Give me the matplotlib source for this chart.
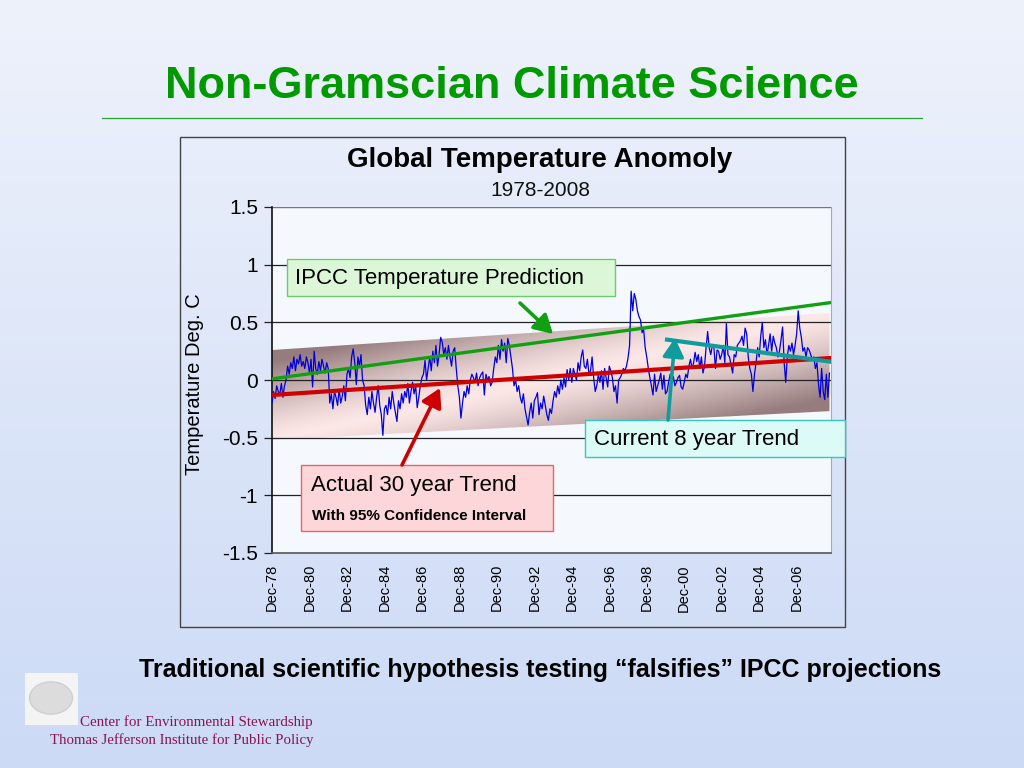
import numpy as np
import matplotlib
matplotlib.use("Agg")
import matplotlib.pyplot as plt
from matplotlib.patches import Rectangle, Polygon, FancyArrowPatch, Circle

plt.rcParams['font.family'] = ['Liberation Sans', 'DejaVu Sans']

# ---------------- data (monthly anomaly, Dec-1978 .. Sep-2008) ----------------
dec_1978 = [-0.20]
y1979 = [-0.10, -0.16, -0.05, -0.10, -0.12, -0.03, -0.15, -0.05, 0.00, 0.12, 0.05, 0.15]
y1980 = [0.10, 0.20, 0.08, 0.18, 0.14, 0.22, 0.12, 0.16, 0.10, 0.20, 0.15, 0.06]
y1981 = [0.18, -0.06, 0.25, 0.10, 0.05, 0.16, 0.08, 0.18, 0.12, 0.06, 0.15, 0.10]
y1982 = [-0.20, -0.12, -0.25, -0.10, -0.15, -0.22, -0.08, -0.20, -0.14, -0.05, -0.18, 0.05]
y1983 = [0.10, 0.02, 0.20, 0.27, 0.15, -0.04, 0.20, 0.12, 0.22, 0.00, -0.05, -0.22]
y1984 = [-0.30, -0.15, -0.25, -0.10, -0.20, -0.28, -0.15, -0.05, -0.22, -0.30, -0.48, -0.25]
y1985 = [-0.22, -0.30, -0.15, -0.25, -0.10, -0.20, -0.28, -0.36, -0.18, -0.25, -0.12, -0.20]
y1986 = [-0.10, -0.15, -0.03, -0.20, -0.10, -0.02, -0.12, -0.05, -0.24, -0.15, -0.05, 0.02]
y1987 = [0.05, 0.17, 0.00, 0.10, 0.20, 0.08, 0.25, 0.15, 0.30, 0.12, 0.22, 0.37]
y1988 = [0.33, 0.22, 0.28, 0.18, 0.30, 0.20, 0.12, 0.25, 0.28, 0.10, -0.05, -0.15]
y1989 = [-0.33, -0.20, -0.10, -0.15, -0.05, -0.12, 0.00, 0.05, 0.02, -0.02, 0.06, -0.05]
y1990 = [0.02, 0.05, 0.07, -0.13, 0.05, 0.00, 0.03, -0.05, -0.02, 0.10, 0.20, 0.15]
y1991 = [0.30, 0.18, 0.35, 0.25, 0.32, 0.15, 0.36, 0.30, 0.20, 0.10, -0.05, 0.00]
y1992 = [-0.10, -0.05, -0.15, -0.20, -0.12, -0.25, -0.32, -0.39, -0.28, -0.20, -0.33, -0.18]
y1993 = [-0.15, -0.11, -0.30, -0.20, -0.25, -0.14, -0.22, -0.30, -0.35, -0.25, -0.29, -0.18]
y1994 = [-0.10, -0.15, -0.05, -0.12, 0.00, -0.08, 0.02, -0.06, 0.09, 0.00, 0.10, -0.02]
y1995 = [0.10, 0.05, 0.00, 0.15, 0.08, 0.20, 0.26, 0.12, 0.10, 0.18, 0.05, 0.08]
y1996 = [0.20, 0.02, -0.10, -0.05, 0.05, -0.02, 0.08, -0.08, 0.10, 0.02, -0.06, 0.12]
y1997 = [0.08, 0.02, -0.10, -0.05, -0.20, 0.00, 0.02, 0.05, 0.10, 0.08, 0.12, 0.19]
y1998 = [0.30, 0.77, 0.60, 0.75, 0.70, 0.60, 0.55, 0.52, 0.41, 0.44, 0.28, 0.20]
y1999 = [0.10, 0.02, -0.05, -0.13, 0.05, -0.10, -0.05, 0.00, 0.06, -0.08, 0.04, -0.12]
y2000 = [-0.10, -0.02, 0.05, 0.00, 0.03, -0.05, -0.02, 0.02, 0.04, -0.06, -0.08, -0.02]
y2001 = [0.05, 0.02, 0.12, 0.18, 0.10, 0.15, 0.24, 0.16, 0.22, 0.10, 0.20, 0.06]
y2002 = [0.12, 0.28, 0.42, 0.28, 0.22, 0.30, 0.28, 0.10, 0.26, 0.25, 0.18, 0.22]
y2003 = [0.30, 0.15, 0.49, 0.22, 0.20, 0.13, 0.06, 0.22, 0.20, 0.30, 0.32, 0.34]
y2004 = [0.38, 0.30, 0.45, 0.40, 0.20, 0.10, 0.05, -0.10, 0.05, 0.15, 0.28, 0.20]
y2005 = [0.38, 0.50, 0.28, 0.35, 0.22, 0.30, 0.40, 0.25, 0.38, 0.32, 0.28, 0.20]
y2006 = [0.25, 0.35, 0.46, 0.15, -0.02, 0.20, 0.30, 0.25, 0.32, 0.22, 0.30, 0.40]
y2007 = [0.60, 0.45, 0.37, 0.25, 0.28, 0.20, 0.28, 0.26, 0.22, 0.18, 0.20, 0.10]
y2008 = [0.15, -0.04, -0.15, 0.10, -0.10, -0.17, 0.05, -0.15, 0.06]

anomaly = (dec_1978 + y1979 + y1980 + y1981 + y1982 + y1983 + y1984 + y1985 +
           y1986 + y1987 + y1988 + y1989 + y1990 + y1991 + y1992 + y1993 +
           y1994 + y1995 + y1996 + y1997 + y1998 + y1999 + y2000 + y2001 +
           y2002 + y2003 + y2004 + y2005 + y2006 + y2007 + y2008)

tick_labels = ["Dec-78", "Dec-80", "Dec-82", "Dec-84", "Dec-86", "Dec-88", "Dec-90",
               "Dec-92", "Dec-94", "Dec-96", "Dec-98", "Dec-00", "Dec-02", "Dec-04", "Dec-06"]

# trend lines: [start, end] values
actual_trend = [-0.13, 0.19]
ipcc_prediction = [0.01, 0.67]
current_trend_start_month = 253
current_trend = [0.35, 0.16]
ci_upper = [0.26, 0.58]
ci_lower = [-0.52, -0.27]

# ---------------- figure ----------------
W, H = 1024, 768
fig = plt.figure(figsize=(W / 100, H / 100), dpi=100)

def fx(px):
    return px / W

def fy(py):
    return 1 - py / H

# slide background gradient
bg = fig.add_axes([0, 0, 1, 1], zorder=-5)
top_c = np.array([238, 242, 251]) / 255
bot_c = np.array([204, 218, 246]) / 255
g = np.linspace(0, 1, 256)[:, None]
grad = top_c[None, None, :] * (1 - g[:, :, None]) + bot_c[None, None, :] * g[:, :, None]
grad = np.repeat(grad, 2, axis=1)
bg.imshow(grad, aspect='auto', extent=[0, 1, 0, 1], origin='upper')
bg.set_axis_off()

# title
fig.text(fx(512), fy(86), "Non-Gramscian Climate Science", ha='center', va='center',
         color='#009a00', fontsize=32.5, fontweight='bold')
fig.add_artist(plt.Line2D([fx(102), fx(922)], [fy(118), fy(118)], color='#2ea02e', lw=0.9))

# chart box
fig.add_artist(Rectangle((fx(180), fy(627)), fx(845) - fx(180), fy(137) - fy(627),
                         transform=fig.transFigure, fill=False, edgecolor='#444444', lw=1.0))

fig.text(fx(540), fy(160), "Global Temperature Anomoly", ha='center', va='center',
         fontsize=20, fontweight='bold', color='black')
fig.text(fx(540), fy(191), "1978-2008", ha='center', va='center', fontsize=15, color='#111111')

# main axes
L, R, T, B = 272, 831, 207, 553
ax = fig.add_axes([fx(L), fy(B), fx(R) - fx(L), fy(T) - fy(B)], zorder=1)
ax.set_facecolor('#f5f8fd')
n = len(anomaly)
months = np.arange(n)
xmax = 358
ax.set_xlim(0, xmax)
ax.set_ylim(-1.5, 1.5)

# confidence band with gradient
x_end = n - 1
band_poly = Polygon([[0, ci_lower[0]], [x_end, ci_lower[1]], [x_end, ci_upper[1]], [0, ci_upper[0]]],
                    closed=True, facecolor='none', edgecolor='none', transform=ax.transData)
ax.add_patch(band_poly)
gx = np.linspace(0, x_end, 400)
gy = np.linspace(-0.6, 0.7, 300)
GX, GY = np.meshgrid(gx, gy)
lo = ci_lower[0] + (ci_lower[1] - ci_lower[0]) * GX / x_end
hi = ci_upper[0] + (ci_upper[1] - ci_upper[0]) * GX / x_end
v = (GY - lo) / (hi - lo)
u = GX / x_end
t = np.clip(np.abs(v - u) * 1.15, 0, 1) ** 1.3
light = np.array([253, 232, 232]) / 255
dark = np.array([150, 124, 124]) / 255
img = light[None, None, :] * (1 - t[:, :, None]) + dark[None, None, :] * t[:, :, None]
im = ax.imshow(img, extent=[0, x_end, -0.6, 0.7], origin='lower', aspect='auto', zorder=1)
im.set_clip_path(band_poly)

# gridlines
for yv in [-1, -0.5, 0, 0.5, 1]:
    ax.axhline(yv, color='#222222', lw=0.9, zorder=2)
ax.axhline(1.5, color='#777777', lw=1.0, zorder=2)

# data line
ax.plot(months, anomaly, color='#0000dd', lw=0.9, zorder=3)

# trends
ax.plot([0, x_end], ipcc_prediction, color='#11a011', lw=2.4, zorder=4)
ax.plot([0, x_end], actual_trend, color='#d00000', lw=3.0, zorder=4)
ax.plot([current_trend_start_month, x_end], current_trend, color='#119c9c', lw=3.0, zorder=5)

# axes styling
ax.set_yticks([-1.5, -1, -0.5, 0, 0.5, 1, 1.5])
ax.set_yticklabels(["-1.5", "-1", "-0.5", "0", "0.5", "1", "1.5"], fontsize=15)
ax.set_xticks(np.arange(0, 24 * len(tick_labels), 24))
ax.set_xticklabels(tick_labels, rotation=90, fontsize=10.5)
ax.tick_params(axis='y', direction='out', length=6, width=0.9, color='#222222', pad=4)
ax.tick_params(axis='x', direction='out', length=0, pad=8)
ax.spines['left'].set_color('#111111')
ax.spines['left'].set_linewidth(1.2)
ax.spines['bottom'].set_color('#555555')
ax.spines['bottom'].set_linewidth(1.2)
ax.spines['top'].set_visible(False)
ax.spines['right'].set_color('#aaaaaa')
ax.spines['right'].set_linewidth(0.8)

fig.text(fx(195), fy(384), "Temperature Deg. C", rotation=90, ha='center', va='center', fontsize=14.5)

# annotation boxes
def box(x0, y0, x1, y1, fc, ec):
    fig.add_artist(Rectangle((fx(x0), fy(y1)), fx(x1) - fx(x0), fy(y0) - fy(y1),
                             transform=fig.transFigure, facecolor=fc, edgecolor=ec, lw=1.0, zorder=10))

def arrow(x0, y0, x1, y1, c):
    fig.add_artist(FancyArrowPatch((fx(x0), fy(y0)), (fx(x1), fy(y1)), transform=fig.transFigure,
                                   arrowstyle='-|>,head_length=7,head_width=4', color=c, lw=2.6,
                                   mutation_scale=1.6, zorder=11, shrinkA=0, shrinkB=0))

box(287, 259, 615, 296, '#dcf7d8', '#6ccc6c')
fig.text(fx(295), fy(278), "IPCC Temperature Prediction", ha='left', va='center', fontsize=16, zorder=12)
arrow(520, 303, 553, 334, '#11a011')

box(301, 465, 553, 531, '#fcd6d8', '#e06a6a')
fig.text(fx(311), fy(486), "Actual 30 year Trend", ha='left', va='center', fontsize=16, zorder=12)
fig.text(fx(312), fy(516), "With 95% Confidence Interval", ha='left', va='center', fontsize=11,
         fontweight='bold', zorder=12)
arrow(402, 465, 440, 388, '#cc0000')

box(585, 420, 845, 457, '#dcfbf6', '#36c6c0')
fig.text(fx(594), fy(439), "Current 8 year Trend", ha='left', va='center', fontsize=16, zorder=12)
arrow(668, 420, 675, 338, '#119c9c')

# bottom statement
fig.text(fx(540), fy(670), "Traditional scientific hypothesis testing \u201cfalsifies\u201d IPCC projections",
         ha='center', va='center', fontsize=18, fontweight='bold', color='black')

# logo
fig.add_artist(Rectangle((fx(25), fy(725)), fx(53), fy(673) - fy(725), transform=fig.transFigure,
                         facecolor='#f4f4f4', edgecolor='none', zorder=5))
fig.add_artist(Circle((fx(51), fy(698)), 0.021, transform=fig.transFigure,
                      facecolor='#dcdcdc', edgecolor='#cfcfcf', zorder=6))
fig.text(fx(313), fy(722), "Center for Environmental Stewardship", ha='right', va='center',
         fontsize=10.8, color='#8a1450', family=['Liberation Serif', 'DejaVu Serif'])
fig.text(fx(313), fy(740), "Thomas Jefferson Institute for Public Policy", ha='right', va='center',
         fontsize=10.7, color='#8a1450', family=['Liberation Serif', 'DejaVu Serif'])

fig.savefig("out.png", dpi=100)
